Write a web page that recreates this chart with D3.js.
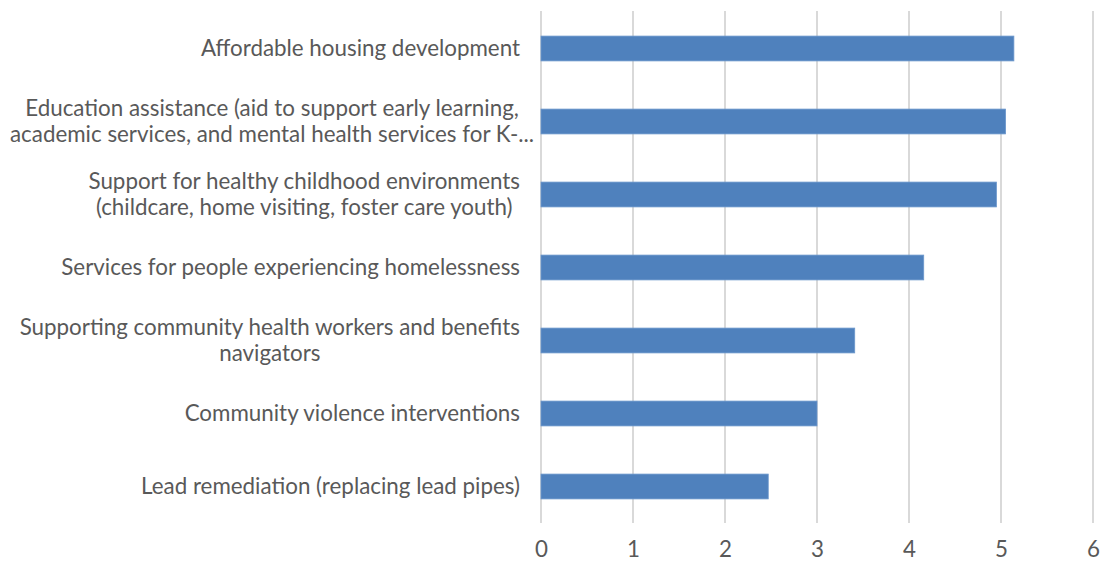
<!DOCTYPE html>
<html>
<head>
<meta charset="utf-8">
<script src="https://cdn.jsdelivr.net/npm/d3@7"></script>
<style>
  html, body { margin: 0; padding: 0; background: #fff; }
  svg { display: block; }
  text { font-family: Lato, "Open Sans", sans-serif; fill: #595959; }
</style>
</head>
<body>
<svg id="chart" width="1102" height="563"></svg>
<script>
// ---- data ----
const categories = [
  "Affordable housing development",
  "Education assistance (aid to support early learning,\nacademic services, and mental health services for K-...",
  "Support for healthy childhood environments\n(childcare, home visiting, foster care youth)",
  "Services for people experiencing homelessness",
  "Supporting community health workers and benefits\nnavigators",
  "Community violence interventions",
  "Lead remediation (replacing lead pipes)"
];
const values = [5.14, 5.05, 4.95, 4.16, 3.41, 3.0, 2.47];
const xTicks = [0, 1, 2, 3, 4, 5, 6];
const xTickLabels = ["0", "1", "2", "3", "4", "5", "6"];

// ---- layout ----
const plot = { left: 541, right: 1093, top: 12, bottom: 523 };
const labelRight = 520, labelMinLeft = 10;
const textColor = "#595959";

const svg = d3.select("#chart");

const x = d3.scaleLinear().domain([0, 6]).range([plot.left, plot.right]);
const y = d3.scaleBand().domain(categories)
  .range([plot.top, plot.bottom])
  .paddingInner(0.66).paddingOuter(0.33);

// fit the font so label widths match the reference
const probe = svg.append("text").attr("font-size", 20)
  .text("Services for people experiencing homelessness");
const probeLen = probe.node().getComputedTextLength();
probe.remove();
const fs = 20 * 459 / probeLen;
const lineH = 26;

// gridlines
svg.append("g").selectAll("line").data(xTicks).join("line")
  .attr("x1", d => x(d)).attr("x2", d => x(d))
  .attr("y1", plot.top - 1).attr("y2", plot.bottom)
  .attr("stroke", "#d9d9d9").attr("stroke-width", 1.3)
  .attr("shape-rendering", "crispEdges");

// bars
svg.append("g").selectAll("rect").data(categories).join("rect")
  .attr("x", x(0))
  .attr("y", d => y(d))
  .attr("width", (d, i) => x(values[i]) - x(0))
  .attr("height", y.bandwidth())
  .attr("fill", "#4f81bd")
  .attr("stroke", "#6b97cc").attr("stroke-width", 0.8);

// x axis tick labels
const xAxis = d3.axisBottom(x).tickValues(xTicks)
  .tickFormat((d, i) => xTickLabels[i]).tickSize(0).tickPadding(0);
const gx = svg.append("g").attr("transform", `translate(0,${plot.bottom + 20})`).call(xAxis);
gx.select(".domain").remove();
gx.attr("font-size", fs).attr("font-family", "Lato, 'Open Sans', sans-serif");
gx.selectAll("text").attr("font-size", fs).attr("fill", textColor)
  .attr("dy", "0.35em").attr("y", 6);

// category labels (wrapped lines centered within a right-aligned block)
const gl = svg.append("g");
categories.forEach(cat => {
  const lines = cat.split("\n");
  const cy = y(cat) + y.bandwidth() / 2;
  const t = gl.append("text").attr("font-size", fs).attr("text-anchor", "middle");
  const tspans = lines.map((ln, j) => t.append("tspan").text(ln)
    .attr("y", cy + (j - (lines.length - 1) / 2) * lineH)
    .attr("dy", "0.35em"));
  const widths = tspans.map(s => s.node().getComputedTextLength());
  const w = d3.max(widths);
  const left = Math.max(labelMinLeft, labelRight - w);
  const cx = left + w / 2;
  tspans.forEach(s => s.attr("x", cx));
});
</script>
</body>
</html>
